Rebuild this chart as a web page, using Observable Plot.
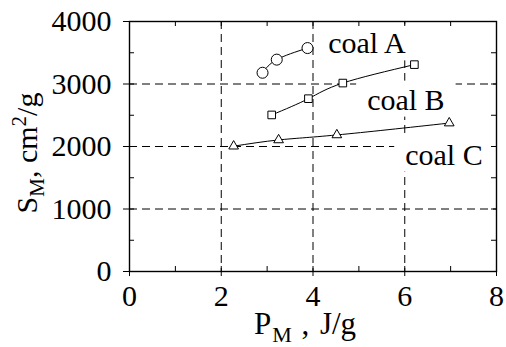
<!DOCTYPE html>
<html>
<head>
<meta charset="utf-8">
<script src="https://cdn.jsdelivr.net/npm/d3@7"></script>
<script src="https://cdn.jsdelivr.net/npm/@observablehq/plot@0.6"></script>
<style>
  body { margin: 0; background: #fff; }
  svg { display: block; }
</style>
</head>
<body>
<div id="chart"></div>
<script>
// Specific surface S_M versus specific grinding energy P_M for three coals
const coalAx = [2.90, 3.21, 3.88];
const coalAy = [3180, 3390, 3575];
const coalBx = [3.10, 3.90, 4.65, 6.21];
const coalBy = [2505, 2765, 3015, 3310];
const coalCx = [2.27, 3.25, 4.52, 6.97];
const coalCy = [2005, 2105, 2185, 2375];

const seriesNames = ["coal A", "coal B", "coal C"];
const labelX = [4.33, 5.18, 6.01];
const labelY = [3490, 2590, 1710];

const xTicks = [0, 2, 4, 6, 8];
const xMinorTicks = [0, 1, 2, 3, 4, 5, 6, 7, 8];
const yTicks = [0, 1000, 2000, 3000, 4000];
const yMinorTicks = [0, 500, 1000, 1500, 2000, 2500, 3000, 3500, 4000];
const xGrid = [2, 4, 6];
const yGrid = [1000, 2000, 3000];

const W = 506, H = 347;
const mL = 129, mR = 10, mT = 21, mB = 76;
const plotW = W - mL - mR, plotH = H - mT - mB;

const toRows = (name, xs, ys) => xs.map((x, i) => ({coal: name, x, y: ys[i]}));
const rowsA = toRows(seriesNames[0], coalAx, coalAy);
const rowsB = toRows(seriesNames[1], coalBx, coalBy);
const rowsC = toRows(seriesNames[2], coalCx, coalCy);
const labels = seriesNames.map((t, i) => ({text: t, x: labelX[i], y: labelY[i]}));

const font = "'Liberation Serif', 'Times New Roman', serif";
const dash = "8,5";

const svg = Plot.plot({
  width: W,
  height: H,
  marginLeft: mL,
  marginRight: mR,
  marginTop: mT,
  marginBottom: mB,
  style: {fontFamily: font, fontSize: "30px", background: "#fff", color: "#000"},
  x: {domain: [0, 8]},
  y: {domain: [0, 4000]},
  marks: [
    Plot.gridX(xGrid, {stroke: "#000", strokeOpacity: 1, strokeWidth: 1, strokeDasharray: dash}),
    Plot.gridY(yGrid, {stroke: "#000", strokeOpacity: 1, strokeWidth: 1, strokeDasharray: dash}),
    Plot.text(labels, {
      x: "x", y: "y", text: "text",
      textAnchor: "start", lineAnchor: "bottom",
      fontSize: 30, fill: "#000", className: "coal-label"
    }),
    // inward minor ticks on all four sides
    Plot.ruleX(xMinorTicks, {stroke: "#000", insetBottom: plotH - 5}),
    Plot.ruleX(xMinorTicks, {stroke: "#000", insetTop: plotH - 5}),
    Plot.ruleY(yMinorTicks, {stroke: "#000", insetRight: plotW - 5}),
    Plot.ruleY(yMinorTicks, {stroke: "#000", insetLeft: plotW - 5}),
    Plot.axisX({ticks: xTicks, tickSize: 5, tickPadding: 8, label: null, fontSize: 30, tickFormat: d3.format("d")}),
    Plot.axisY({ticks: yTicks, tickSize: 6, tickPadding: 12, label: null, fontSize: 30, tickFormat: d3.format("d")}),
    Plot.frame({stroke: "#000", strokeWidth: 1.4}),
    Plot.line(rowsA, {x: "x", y: "y", curve: "natural", stroke: "#000", strokeWidth: 1}),
    Plot.line(rowsB, {x: "x", y: "y", curve: "natural", stroke: "#000", strokeWidth: 1}),
    Plot.line(rowsC, {x: "x", y: "y", curve: "natural", stroke: "#000", strokeWidth: 1}),
    Plot.dot(rowsA, {x: "x", y: "y", symbol: "circle", r: 5.5, fill: "#fff", stroke: "#000", strokeWidth: 1}),
    Plot.dot(rowsB, {x: "x", y: "y", symbol: "square", r: 4.3, fill: "#fff", stroke: "#000", strokeWidth: 1}),
    Plot.dot(rowsC, {x: "x", y: "y", symbol: "triangle", r: 3.6, fill: "#fff", stroke: "#000", strokeWidth: 1})
  ]
});

document.getElementById("chart").appendChild(svg);

// white boxes behind the series labels so the grid breaks around them
svg.querySelectorAll(".coal-label text").forEach((t) => {
  const b = t.getBBox();
  const r = document.createElementNS("http://www.w3.org/2000/svg", "rect");
  r.setAttribute("x", b.x - 11);
  r.setAttribute("y", b.y - 2);
  r.setAttribute("width", b.width + 22);
  r.setAttribute("height", b.height + 3);
  r.setAttribute("fill", "#fff");
  r.setAttribute("stroke", "none");
  const tr = t.getAttribute("transform");
  if (tr) r.setAttribute("transform", tr);
  t.parentNode.insertBefore(r, t);
});

// axis titles with subscripts and superscript
const s = d3.select(svg);
const xt = s.append("text")
  .attr("x", 305)
  .attr("y", 334)
  .attr("text-anchor", "middle")
  .attr("font-family", font)
  .attr("font-size", 31)
  .attr("fill", "#000");
xt.append("tspan").text("P");
xt.append("tspan").attr("font-size", 22).attr("dx", 1).attr("dy", 8).text("M");
xt.append("tspan").attr("dx", 2).attr("dy", -8).text(" ,");
xt.append("tspan").attr("dx", 3).text(" J/g");

const yt = s.append("text")
  .attr("transform", `translate(37,${mT + plotH / 2 + 7}) rotate(-90)`)
  .attr("text-anchor", "middle")
  .attr("font-family", font)
  .attr("font-size", 30)
  .attr("fill", "#000");
yt.append("tspan").text("S");
yt.append("tspan").attr("font-size", 21).attr("dy", 7).text("M");
yt.append("tspan").attr("dy", -7).text(", cm");
yt.append("tspan").attr("font-size", 21).attr("dy", -11).text("2");
yt.append("tspan").attr("dy", 11).text("/g");
</script>
</body>
</html>
